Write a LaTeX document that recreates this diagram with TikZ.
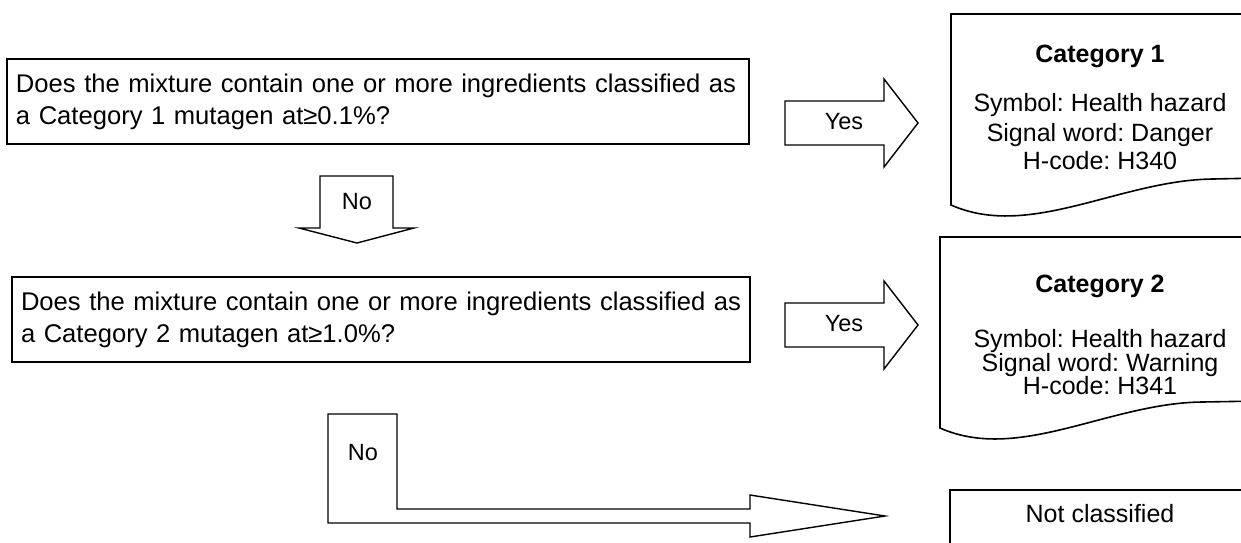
\documentclass[tikz,border=0pt]{standalone}
\usepackage{fontspec}
\setmainfont{Liberation Sans}
\frenchspacing
\begin{document}
\begin{tikzpicture}[x=1pt,y=-1pt,
  box/.style={draw, line width=1.6pt, inner xsep=9pt, inner ysep=0pt, minimum height=85pt, align=left, font=\fontsize{25.6}{32}\selectfont, anchor=center},
  blockarrow/.style={draw, line width=1.4pt, line join=miter},
  lbl/.style={font=\fontsize{23.5}{28}\selectfont, inner sep=0pt},
  docline/.style={draw, line width=1.6pt},
  doctext/.style={font=\fontsize{25}{29}\selectfont, anchor=base, inner sep=0pt},
  doctitle/.style={font=\bfseries\fontsize{25}{29}\selectfont, anchor=base, inner sep=0pt}]
\useasboundingbox (0,0) rectangle (1241,542);

% question boxes
\node[box, text width=724pt] (q1) at (378,101.5) {Does the mixture contain one or more ingredients classified as\\a Category 1 mutagen at≥0.1\%?};
\node[box, text width=720pt] (q2) at (381,319.5) {Does the mixture contain one or more ingredients classified as\\a Category 2 mutagen at≥1.0\%?};

% Yes arrows
\draw[blockarrow] (785,101) -- (884,101) -- (884,79) -- (918,123) -- (884,167) -- (884,145) -- (785,145) -- cycle;
\node[lbl] (yes1) at (844,122) {Yes};
\draw[blockarrow] (785,303) -- (884,303) -- (884,281) -- (918,325) -- (884,369) -- (884,347) -- (785,347) -- cycle;
\node[lbl] (yes2) at (844,324) {Yes};

% No arrow (down)
\draw[blockarrow] (320,176) -- (393,176) -- (393,228) -- (414,228) -- (357,243) -- (299,228) -- (320,228) -- cycle;
\node[lbl] (no1) at (357,202) {No};

% No arrow (bent)
\draw[blockarrow] (328,414) -- (397,414) -- (397,509) -- (750,509) -- (750,495) -- (885,516) -- (750,537) -- (750,523) -- (328,523) -- cycle;
\node[lbl] (no2) at (363,453) {No};

% documents
\draw[docline] (1260,14) -- (951,14) -- (951,205) .. controls (1030,240) and (1120,180) .. (1213,179) -- (1260,178);
\node[doctitle] (c1) at (1100,62) {Category 1};
\node[doctext] (c1a) at (1100,111) {Symbol: Health hazard};
\node[doctext] (c1b) at (1100,141) {Signal word: Danger};
\node[doctext] (c1c) at (1100,169) {H-code: H340};

\draw[docline] (1260,237) -- (940,237) -- (940,428) .. controls (1019,463) and (1109,403) .. (1202,402) -- (1260,401);
\node[doctitle] (c2) at (1100,292) {Category 2};
\node[doctext] (c2a) at (1100,347) {Symbol: Health hazard};
\node[doctext] (c2b) at (1100,371) {Signal word: Warning};
\node[doctext] (c2c) at (1100,394) {H-code: H341};

% not classified
\draw[docline] (1260,490) -- (950,490) -- (950,560);
\node[doctext, anchor=center] (nc) at (1100,514) {Not classified};
\end{tikzpicture}
\end{document}
